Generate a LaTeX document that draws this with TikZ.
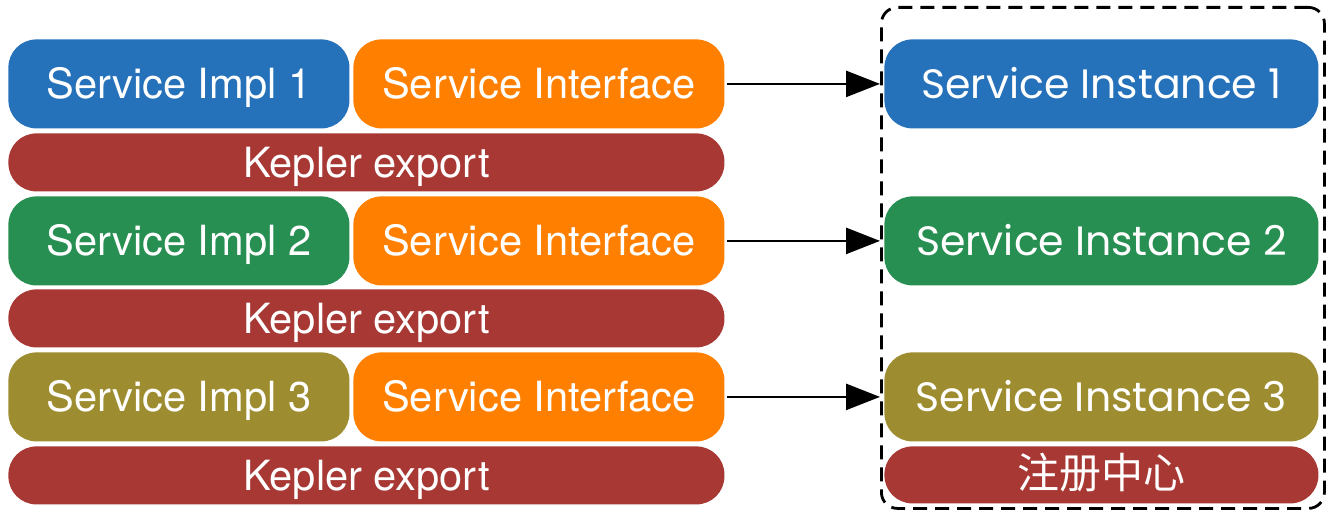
\documentclass[tikz,border=0pt]{standalone}
\usepackage{fontspec}
\usepackage{tikz}
\usetikzlibrary{arrows.meta}
\setmainfont{TeX Gyre Heros}
\newfontfamily\instfont{Poppins}
\newfontfamily\cjkfont{Noto Sans CJK SC}
\definecolor{impl-blue}{RGB}{37, 113, 186}
\definecolor{impl-green}{RGB}{40, 143, 82}
\definecolor{impl-olive}{RGB}{158, 141, 48}
\definecolor{iface-orange}{RGB}{255, 128, 0}
\definecolor{export-red}{RGB}{168, 56, 52}

\begin{document}
\begin{tikzpicture}[
    x=0.5pt, y=-0.5pt,
    box/.style={rectangle, rounded corners=14pt, anchor=north west, inner sep=0pt,
        text=white, text height=15pt, text depth=0pt, font=\fontsize{20.8}{25}\selectfont},
    impl/.style={box, minimum width=170.5pt, minimum height=44.5pt},
    iface/.style={box, fill=iface-orange, minimum width=185.5pt, minimum height=44.5pt},
    export/.style={box, fill=export-red, minimum width=358pt, minimum height=29pt},
    inst/.style={box, minimum width=217pt, minimum height=44.5pt, text height=14.6pt,
        font=\instfont\fontsize{20.5}{25}\selectfont},
    link/.style={line width=1.3pt, -{Triangle[length=17pt,width=13pt]}}
]
\useasboundingbox (0,0) rectangle (1326,513);

\node[impl, fill=impl-blue] (impl1) at (8,39) {Service Impl 1};
\node[iface] (iface1) at (353,39) {Service Interface};
\node[export] (export1) at (8,133) {Kepler export};

\node[impl, fill=impl-green] (impl2) at (8,196) {Service Impl 2};
\node[iface] (iface2) at (353,196) {Service Interface};
\node[export] (export2) at (8,289) {Kepler export};

\node[impl, fill=impl-olive] (impl3) at (8,352) {Service Impl 3};
\node[iface] (iface3) at (353,352) {Service Interface};
\node[export] (export3) at (8,446) {Kepler export};

\node[rectangle, draw, dash pattern=on 7pt off 4pt, line width=1.4pt, rounded corners=8pt,
    anchor=north west, minimum width=221.5pt, minimum height=250.5pt] (center) at (880,6) {};

\node[inst, fill=impl-blue] (inst1) at (884,39) {Service Instance 1};
\node[inst, fill=impl-green] (inst2) at (884,196) {Service Instance 2};
\node[inst, fill=impl-olive] (inst3) at (884,352) {Service Instance 3};
\node[box, fill=export-red, minimum width=217pt, minimum height=28.5pt, text height=14pt,
    font=\cjkfont\fontsize{21}{25}\selectfont] (registry) at (884,446) {注册中心};

\draw[link] (iface1.east) ++(2,0) -- (inst1.west -| center.west);
\draw[link] (iface2.east) ++(2,0) -- (inst2.west -| center.west);
\draw[link] (iface3.east) ++(2,0) -- (inst3.west -| center.west);
\end{tikzpicture}
\end{document}
